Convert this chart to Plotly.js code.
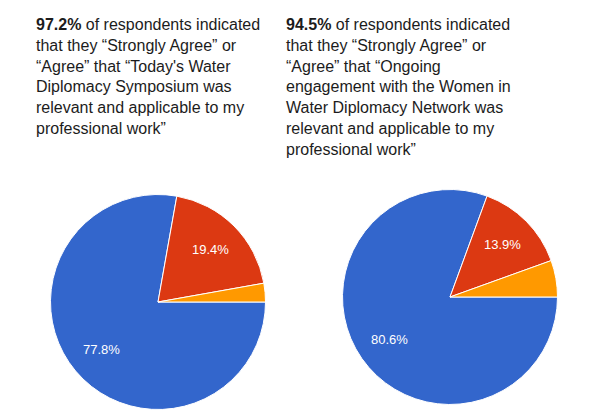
<!DOCTYPE html>
<html>
<head>
<meta charset="utf-8">
<script src="https://cdn.plot.ly/plotly-3.0.1.min.js"></script>
<style>html,body{margin:0;padding:0;background:#fff;}#chart{width:609px;height:416px;}</style>
</head>
<body>
<div id="chart"></div>
<script>
const categories = ["Strongly Agree", "Agree", "Neutral"];
const leftValues = [77.8, 19.4, 2.8];
const rightValues = [80.6, 13.9, 5.5];
const showLabel = [true, true, false];
const leftTitle = "<b>97.2%</b> of respondents indicated<br>that they \u201cStrongly Agree\u201d or<br>\u201cAgree\u201d that \u201cToday's Water<br>Diplomacy Symposium was<br>relevant and applicable to my<br>professional work\u201d";
const rightTitle = "<b>94.5%</b> of respondents indicated<br>that they \u201cStrongly Agree\u201d or<br>\u201cAgree\u201d that \u201cOngoing<br>engagement with the Women in<br>Water Diplomacy Network was<br>relevant and applicable to my<br>professional work\u201d";
const colors = ["#3366cc", "#dc3912", "#ff9900"];

const W = 609, H = 416;
const ROT = 90;          // first slice starts at 3 o'clock
const LABEL_R = 0.69;    // label distance from centre, fraction of radius

function dom(cx, cy, r) {
  return {x: [(cx - r) / W, (cx + r) / W], y: [(H - cy - r) / H, (H - cy + r) / H]};
}

function pieTrace(values, domain) {
  return {
    type: "pie",
    labels: categories,
    values: values,
    textinfo: "none",
    sort: false,
    direction: "clockwise",
    rotation: ROT,
    marker: {colors: colors, line: {color: "#ffffff", width: 1}},
    domain: domain,
    hoverinfo: "label+percent",
    showlegend: false
  };
}

// slice labels placed along each slice's bisector, from the data values
function sliceLabels(values, cx, cy, r) {
  const total = values.reduce((a, b) => a + b, 0);
  let cum = 0;
  const out = [];
  values.forEach((v, i) => {
    const mid = ROT + (cum + v / 2) / total * 360; // degrees clockwise from 12 o'clock
    cum += v;
    if (!showLabel[i]) return;
    const a = mid * Math.PI / 180;
    const px = cx + LABEL_R * r * Math.sin(a);
    const py = cy - LABEL_R * r * Math.cos(a);
    out.push({
      text: (v / total * 100).toFixed(1) + "%",
      xref: "paper", yref: "paper", x: px / W, y: 1 - py / H,
      xanchor: "center", yanchor: "middle", showarrow: false,
      font: {family: "Liberation Sans, Arial, sans-serif", size: 13, color: "#ffffff"}
    });
  });
  return out;
}

const L = {cx: 158, cy: 302, r: 107.5};
const R = {cx: 450, cy: 297, r: 107.5};

const data = [
  pieTrace(leftValues, dom(L.cx, L.cy, L.r)),
  pieTrace(rightValues, dom(R.cx, R.cy, R.r))
];

const layout = {
  width: W, height: H,
  margin: {l: 0, r: 0, t: 0, b: 0},
  paper_bgcolor: "#ffffff",
  font: {family: "Liberation Sans, Arial, sans-serif", color: "#1f1f1f"},
  annotations: [
    {text: leftTitle, xref: "paper", yref: "paper", x: 34 / W, y: 1 - 14 / H, xanchor: "left", yanchor: "top", align: "left", showarrow: false, font: {size: 16, color: "#1c1c1c"}},
    {text: rightTitle, xref: "paper", yref: "paper", x: 284 / W, y: 1 - 14 / H, xanchor: "left", yanchor: "top", align: "left", showarrow: false, font: {size: 16, color: "#1c1c1c"}}
  ].concat(sliceLabels(leftValues, L.cx, L.cy, L.r), sliceLabels(rightValues, R.cx, R.cy, R.r))
};

Plotly.newPlot("chart", data, layout, {displayModeBar: false, staticPlot: true});
</script>
</body>
</html>
